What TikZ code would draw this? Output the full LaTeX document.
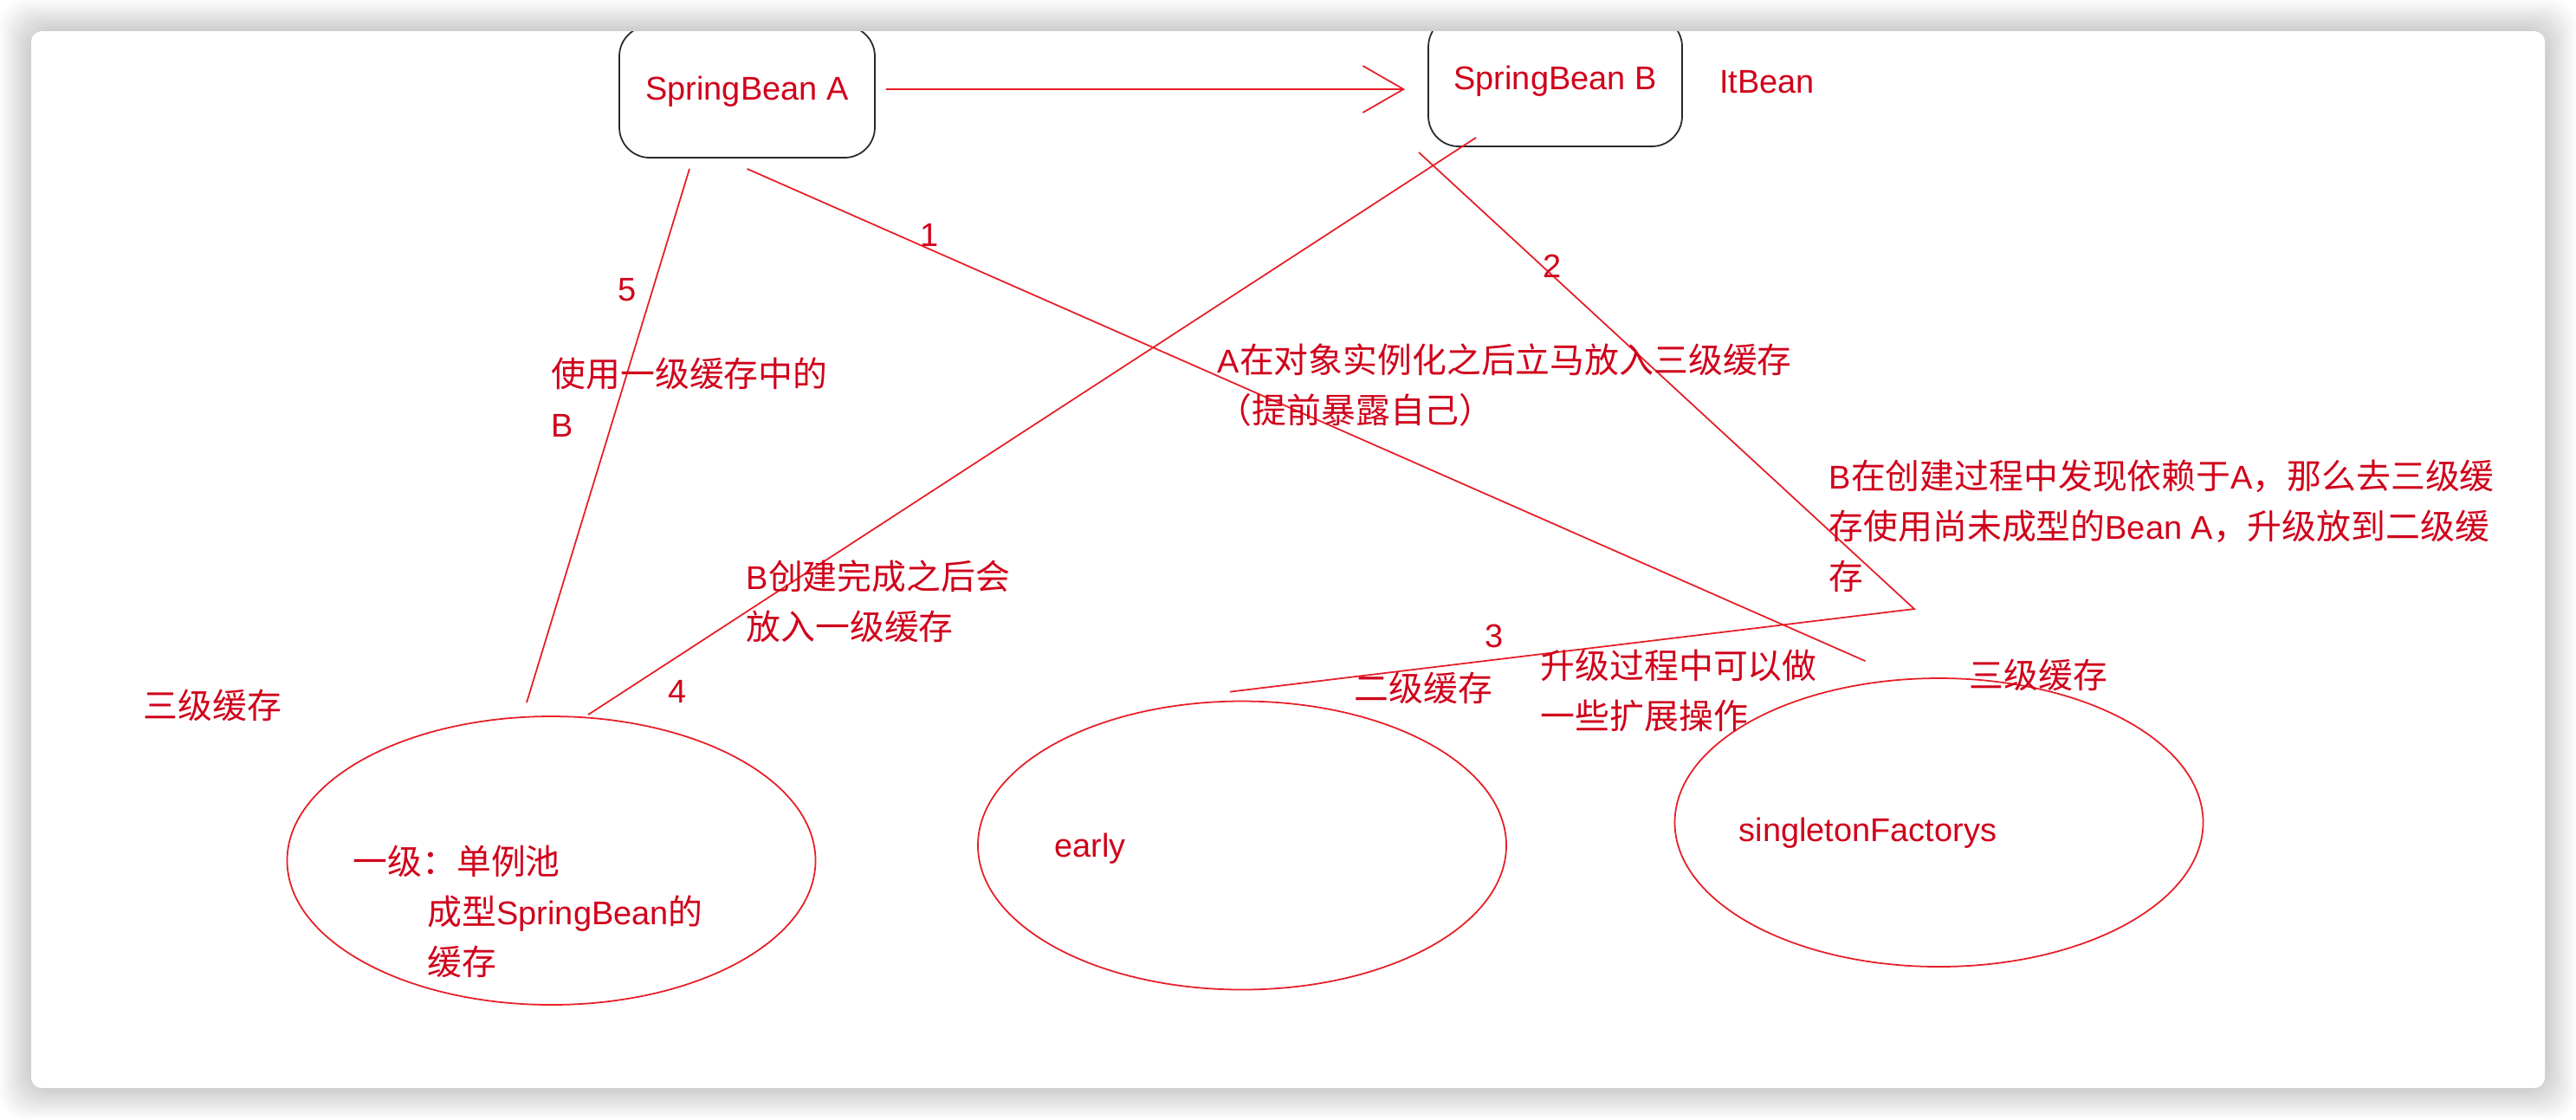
\documentclass[tikz,border=0pt]{standalone}
\usepackage{fontspec}
\setmainfont{Liberation Sans}
\newfontfamily\zh[Scale=1.05]{Noto Sans CJK SC}
\usetikzlibrary{shapes.geometric,arrows.meta}
\definecolor{inkred}{RGB}{208,2,27}
\definecolor{linered}{RGB}{230,30,38}
\definecolor{boxgray}{RGB}{40,40,40}
\tikzset{
  lbl/.style={text=inkred, font=\fontsize{10.8pt}{16.5pt}\selectfont, inner sep=0pt, align=left},
  bean/.style={draw=boxgray, line width=0.5pt, rounded corners=0.35cm, minimum width=2.95cm,
    text=inkred, font=\fontsize{10.8pt}{13pt}\selectfont, inner sep=0pt},
  pool/.style={ellipse, draw=linered, line width=0.5pt, minimum width=6.1cm, minimum height=3.33cm, inner sep=0pt},
  wire/.style={draw=linered, line width=0.5pt},
}
\begin{document}
\begin{tikzpicture}
	\useasboundingbox (0,0) rectangle (29.74,-12.92);
	\fill[white] (0,0) rectangle (29.74,-12.92);
	% shadow and card
	\foreach \s in {1,...,12}
		\fill[black, opacity=0.016, rounded corners=0.3cm] ({0.36-\s*0.03},{-0.36+\s*0.03}) rectangle ({29.38+\s*0.03},{-12.56-\s*0.03});
	\fill[white, rounded corners=0.12cm] (0.36,-0.36) rectangle (29.38,-12.56);
	
	\begin{scope}
	\clip[rounded corners=0.12cm] (0.36,-0.36) rectangle (29.38,-12.56);
	
	% the two beans
	\node[bean, minimum height=1.52cm] (beanA) at (8.625,-1.06) {SpringBean A};
	\node[bean, minimum height=1.50cm, minimum width=2.93cm] (beanB) at (17.955,-0.94) {SpringBean B};
	\node[lbl] (itbean) at (20.40,-0.95) {ItBean};
	
	% the three caches
	\node[pool] (first) at (6.365,-9.935) {};
	\node[pool] (second) at (14.34,-9.76) {};
	\node[pool] (third) at (22.385,-9.495) {};
	
	\draw[wire, -{Straight Barb[length=0.47cm, width=0.54cm]}] ([xshift=0.12cm, yshift=0.03cm]beanA.east) -- ([xshift=-0.26cm, yshift=-0.09cm]beanB.west);
	\draw[wire] ([yshift=-0.12cm]beanA.south) -- ([shift={(-0.85,0.19)}]third.north);
	\draw[wire] ([shift={(-0.665,-0.12)}]beanA.south) -- ([shift={(-0.285,0.15)}]first.north);
	\draw[wire] ([shift={(-0.915,0.11)}]beanB.south) -- ([shift={(0.425,0.01)}]first.north);
	\coordinate (turn) at (22.10,-7.03);
	\draw[wire] ([shift={(-1.575,-0.06)}]beanB.south) -- (turn) -- ([shift={(-0.14,0.10)}]second.north);
	
	% step numbers
	\node[lbl] (n1) at (10.73,-2.71) {1};
	\node[lbl] (n2) at (17.92,-3.07) {2};
	\node[lbl] (n3) at (17.25,-7.34) {3};
	\node[lbl] (n4) at (7.82,-7.98) {4};
	\node[lbl] (n5) at (7.24,-3.35) {5};
	
	% notes
	\node[lbl, anchor=west] (useB) at (6.36,-4.59) {{\zh 使用一级缓存中的}\\B};
	\node[lbl, anchor=west] (early1) at (14.05,-4.45) {A{\zh 在对象实例化之后立马放入三级缓存}\\{\zh （提前暴露自己）}};
	\node[lbl, anchor=west] (upgrade) at (21.11,-6.07) {B{\zh 在创建过程中发现依赖于}A{\zh ，那么去三级缓}\\{\zh 存使用尚未成型的}Bean A{\zh ，升级放到二级缓}\\{\zh 存}};
	\node[lbl, anchor=west] (putB) at (8.61,-6.94) {B{\zh 创建完成之后会}\\{\zh 放入一级缓存}};
	\node[lbl, anchor=west] (ext) at (17.78,-7.97) {{\zh 升级过程中可以做}\\{\zh 一些扩展操作}};
	
	% cache names
	\node[lbl, anchor=west] (lvl3a) at (1.65,-8.14) {\zh 三级缓存};
	\node[lbl, anchor=west] (lvl1) at (4.07,-10.52) {{\zh 一级：单例池}\\\hspace*{0.86cm}{\zh 成型}SpringBean{\zh 的}\\\hspace*{0.86cm}{\zh 缓存}};
	\node[lbl, anchor=west] (lvl2) at (15.63,-7.94) {\zh 二级缓存};
	\node[lbl, anchor=west] (lvl3b) at (22.73,-7.79) {\zh 三级缓存};
	\node[lbl, anchor=west] (earlyname) at (12.17,-9.80) {early};
	\node[lbl, anchor=west] (factname) at (20.07,-9.62) {singletonFactorys};
	\end{scope}
\end{tikzpicture}
\end{document}
